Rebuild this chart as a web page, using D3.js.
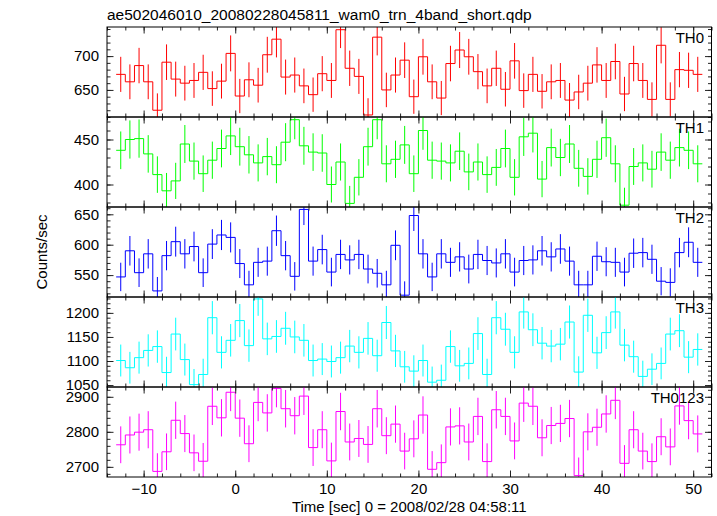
<!DOCTYPE html>
<html><head><meta charset="utf-8">
<script src="https://cdn.jsdelivr.net/npm/d3@7"></script>
<style>
body{margin:0;background:#fff}
svg{display:block}
text{font-family:"Liberation Sans",Arial,Helvetica,sans-serif;fill:#000}
</style>
</head><body>
<svg id="c" width="717" height="516"></svg>
<script>
const title = "ae502046010_20080228045811_wam0_trn_4band_short.qdp";
const xLabel = "Time [sec] 0 = 2008/02/28 04:58:11";
const yLabel = "Counts/sec";
const binStart = -13;
const binWidth = 1;
const xDomain = [-14, 52];
const xTicks = [-10, 0, 10, 20, 30, 40, 50];
const bandNames = ["TH0", "TH1", "TH2", "TH3", "TH0123"];
const bandColors = ["#ff0000", "#00ff00", "#0000ff", "#00ffff", "#ff00ff"];

const th0 = [673,662,686,662,620,691,666,660,664,676,652,663,704,641,665,657,702,725,669,672,656,643,674,664,739,682,670,613,728,650,672,694,
             640,699,662,638,689,709,699,677,656,682,651,693,649,673,648,662,664,635,647,660,687,664,692,644,689,664,636,716,636,680,679,673];
const th1 = [438,450,451,434,411,393,404,445,426,412,427,440,454,442,433,424,431,422,447,472,443,436,435,400,425,379,408,442,472,423,428,444,
             412,460,427,426,424,437,414,425,411,419,440,408,453,457,406,441,430,445,418,409,428,452,423,377,420,424,417,436,427,441,438,423];
const th2 = [547,590,554,585,524,582,605,585,597,554,601,616,612,569,534,571,573,623,582,548,658,573,592,555,584,575,584,560,553,534,599,517,
             648,585,547,585,571,580,560,584,574,570,585,555,574,575,590,580,593,573,534,534,581,572,571,555,586,587,576,540,538,587,604,571];
const th3 = [1101,1086,1107,1122,1130,1076,1156,1103,1051,1072,1190,1118,1143,1184,1132,1229,1146,1151,1168,1150,1143,1101,1104,1099,1107,1131,1118,1147,1111,1180,1121,1088,
             1079,1101,1056,1060,1130,1090,1095,1157,1072,1190,1166,1118,1202,1165,1137,1131,1135,1181,1077,1195,1117,1159,1202,1133,1109,1068,1083,1095,1156,1163,1108,1124];
const th0123 = [2763,2791,2799,2806,2687,2743,2833,2795,2740,2716,2873,2840,2913,2839,2766,2884,2854,2924,2866,2846,2902,2755,2806,2717,2858,2771,2781,2764,2866,2789,2822,2745,
                2780,2848,2693,2712,2814,2817,2771,2844,2715,2863,2844,2774,2882,2873,2783,2818,2824,2838,2675,2800,2813,2851,2890,2710,2806,2745,2715,2786,2757,2874,2832,2794];

const yDomains = [[610, 743], [375, 475], [514, 662], [1046, 1233], [2671, 2928]];
const yTicks = [[650, 700], [400, 450], [550, 600, 650], [1050, 1100, 1150, 1200], [2700, 2800, 2900]];
const yMinorSteps = [10, 10, 10, 10, 20];
const xMinorStep = 2;

const series = [th0, th1, th2, th3, th0123];

// layout
const L = 107, R = 711.5, T = 27, PH = 90;
const svg = d3.select("#c");
const x = d3.scaleLinear().domain(xDomain).range([L, R]);
const xMinor = d3.range(xDomain[0], xDomain[1] + 0.001, xMinorStep);
const MAJ = 6.5, MIN = 3.5;
const fs = 15;

svg.append("text").attr("x", L).attr("y", 20).attr("font-size", 15.5).text(title);

series.forEach((vals, p) => {
  const top = T + p * PH, bot = top + PH;
  const y = d3.scaleLinear().domain(yDomains[p]).range([bot, top]);
  const g = svg.append("g");
  const cid = "clip" + p;
  svg.append("clipPath").attr("id", cid).append("rect")
    .attr("x", L).attr("y", top).attr("width", R - L).attr("height", PH);
  const dg = g.append("g").attr("clip-path", `url(#${cid})`);
  const col = bandColors[p];
  const bins = vals.map((v, i) => {
    const t0 = binStart + i * binWidth;
    const err = Math.sqrt(v * binWidth) / binWidth;
    return {t0, t1: t0 + binWidth, tc: t0 + binWidth / 2, v, err};
  });
  // error bars
  dg.selectAll("line.e").data(bins).join("line").attr("class", "e")
    .attr("x1", d => x(d.tc)).attr("x2", d => x(d.tc))
    .attr("y1", d => y(d.v - d.err)).attr("y2", d => y(d.v + d.err))
    .attr("stroke", col).attr("stroke-width", 1);
  // step histogram
  const pts = bins.map(d => [d.t0, d.v]);
  pts.push([bins[bins.length - 1].t1, bins[bins.length - 1].v]);
  const line = d3.line().x(d => x(d[0])).y(d => y(d[1])).curve(d3.curveStepAfter);
  dg.append("path").attr("d", line(pts)).attr("fill", "none")
    .attr("stroke", col).attr("stroke-width", 1);

  // ticks
  const yMinor = d3.range(Math.ceil(yDomains[p][0] / yMinorSteps[p]) * yMinorSteps[p], yDomains[p][1], yMinorSteps[p]);
  const ax = g.append("g");
  const addAxis = (axis, tx, ty) => {
    const a = ax.append("g").attr("transform", `translate(${tx},${ty})`).call(axis);
    a.select(".domain").remove();
    a.selectAll("line").attr("stroke", "#222");
    a.selectAll("text").attr("font-size", fs).attr("font-family", '"Liberation Sans",Arial,sans-serif').attr("fill", "#000");
    return a;
  };
  addAxis(d3.axisLeft(y).tickValues(yMinor).tickSize(-MIN).tickFormat(""), L, 0);
  addAxis(d3.axisRight(y).tickValues(yMinor).tickSize(-MIN).tickFormat(""), R, 0);
  addAxis(d3.axisLeft(y).tickValues(yTicks[p]).tickSize(-MAJ).tickPadding(8).tickFormat(d3.format("d")), L, 0);
  addAxis(d3.axisRight(y).tickValues(yTicks[p]).tickSize(-MAJ).tickFormat(""), R, 0);
  addAxis(d3.axisTop(x).tickValues(xMinor).tickSize(-MIN).tickFormat(""), 0, top);
  addAxis(d3.axisTop(x).tickValues(xTicks).tickSize(-MAJ).tickFormat(""), 0, top);
  addAxis(d3.axisBottom(x).tickValues(xMinor).tickSize(-MIN).tickFormat(""), 0, bot);
  addAxis(d3.axisBottom(x).tickValues(xTicks).tickSize(-MAJ).tickPadding(6)
      .tickFormat(p === series.length - 1 ? d3.format("d") : ""), 0, bot);

  // frame
  g.append("rect").attr("x", L).attr("y", top).attr("width", R - L).attr("height", PH)
    .attr("fill", "none").attr("stroke", "#000").attr("stroke-width", 1);

  g.append("text").attr("x", 704).attr("y", top + 16).attr("text-anchor", "end")
    .attr("font-size", fs).text(bandNames[p]);
});

svg.append("text").attr("x", (L + R) / 2).attr("y", 512).attr("text-anchor", "middle")
  .attr("font-size", fs).text(xLabel);
svg.append("text").attr("transform", `translate(47,${T + 2.5 * PH}) rotate(-90)`)
  .attr("text-anchor", "middle").attr("font-size", fs).text(yLabel);
</script>
</body></html>
